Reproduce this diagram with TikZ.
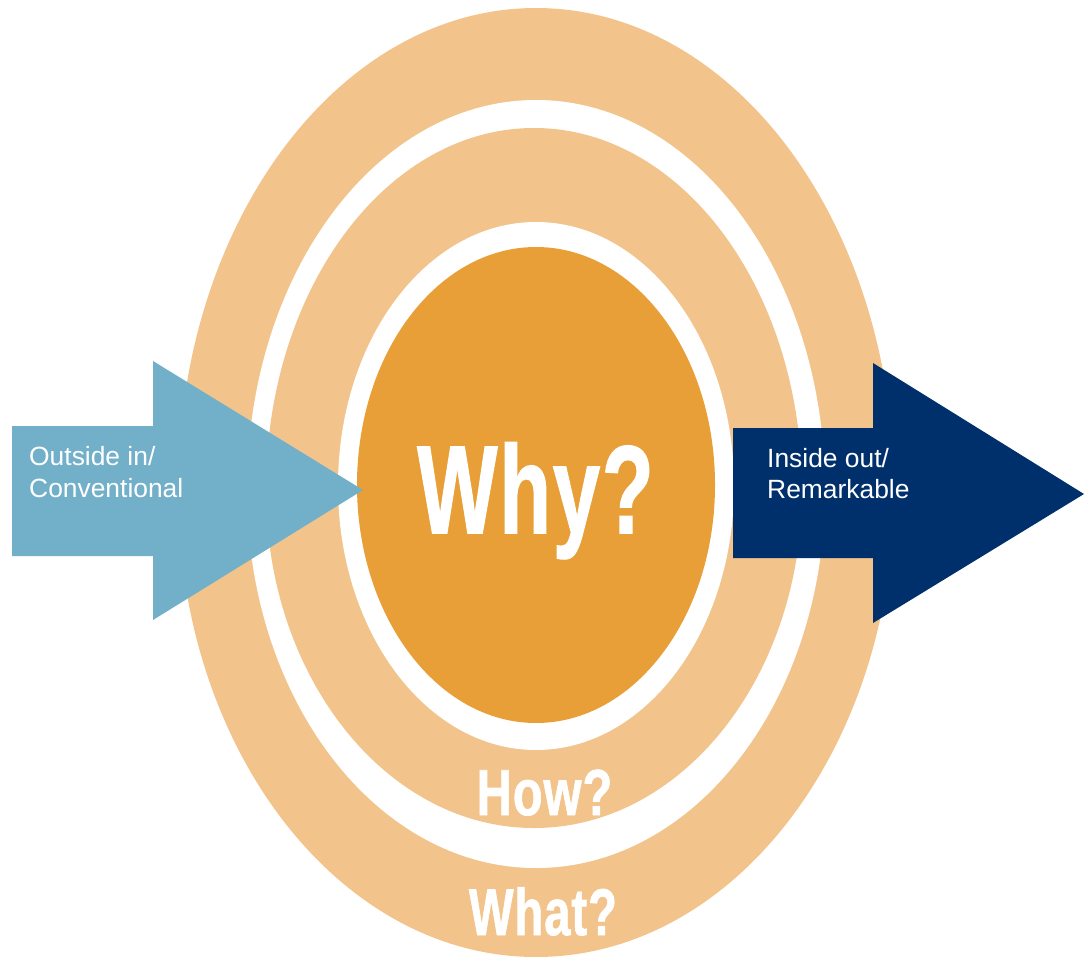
\documentclass[tikz,border=0pt]{standalone}
\usepackage{fontspec}
\setmainfont{Liberation Sans}
\newfontfamily\heavyfont[FakeBold=1.3,LetterSpace=2]{Liberation Sans Bold}
\definecolor{ringc}{RGB}{242,196,140}
\definecolor{corec}{RGB}{233,159,55}
\definecolor{lightblue}{RGB}{114,175,201}
\definecolor{navy}{RGB}{0,48,107}
\begin{document}
\begin{tikzpicture}[x=1pt,y=-1pt,
  arrowtext/.style={anchor=base west,inner sep=0pt,text=white,font=\fontsize{26.4}{32}\selectfont},
  bigword/.style={anchor=base,inner sep=0pt,text=white}]
\useasboundingbox (0,0) rectangle (1091,963);
% outer ring
\fill[ringc] (894,490) arc[start angle=0,end angle=180,x radius=358,y radius=467]
  arc[start angle=180,end angle=360,x radius=358,y radius=482] -- cycle;
\fill[white] (825,490) arc[start angle=0,end angle=180,x radius=289,y radius=378]
  arc[start angle=180,end angle=360,x radius=289,y radius=390] -- cycle;
% middle ring
\fill[ringc] (802,490) arc[start angle=0,end angle=180,x radius=268,y radius=338]
  arc[start angle=180,end angle=360,x radius=268,y radius=362] -- cycle;
\fill[white] (536,486) ellipse[x radius=198,y radius=264];
% core
\fill[corec] (536,485) ellipse[x radius=179,y radius=238];
\node[bigword,font=\heavyfont\fontsize{125}{125}\selectfont] (why) at (535.5,533) {\scalebox{0.68}[1]{Why?}};
\node[bigword,font=\heavyfont\fontsize{65}{66}\selectfont] (how) at (544.5,815) {\scalebox{0.75}[1]{How?}};
\node[bigword,font=\heavyfont\fontsize{66}{67}\selectfont] (what) at (543,935) {\scalebox{0.715}[1]{What?}};
% arrows
\fill[lightblue] (12,426) -- (153,426) -- (153,361) -- (363,490) -- (153,620) -- (153,556) -- (12,556) -- cycle;
\fill[navy] (733,428) -- (873,428) -- (873,363) -- (1084,494) -- (873,623) -- (873,558) -- (733,558) -- cycle;
\node[arrowtext] (in1) at (29,465) {Outside in/};
\node[arrowtext] (in2) at (29,497) {Conventional};
\node[arrowtext] (out1) at (767,467) {Inside out/};
\node[arrowtext] (out2) at (767,498) {Remarkable};
\end{tikzpicture}
\end{document}
